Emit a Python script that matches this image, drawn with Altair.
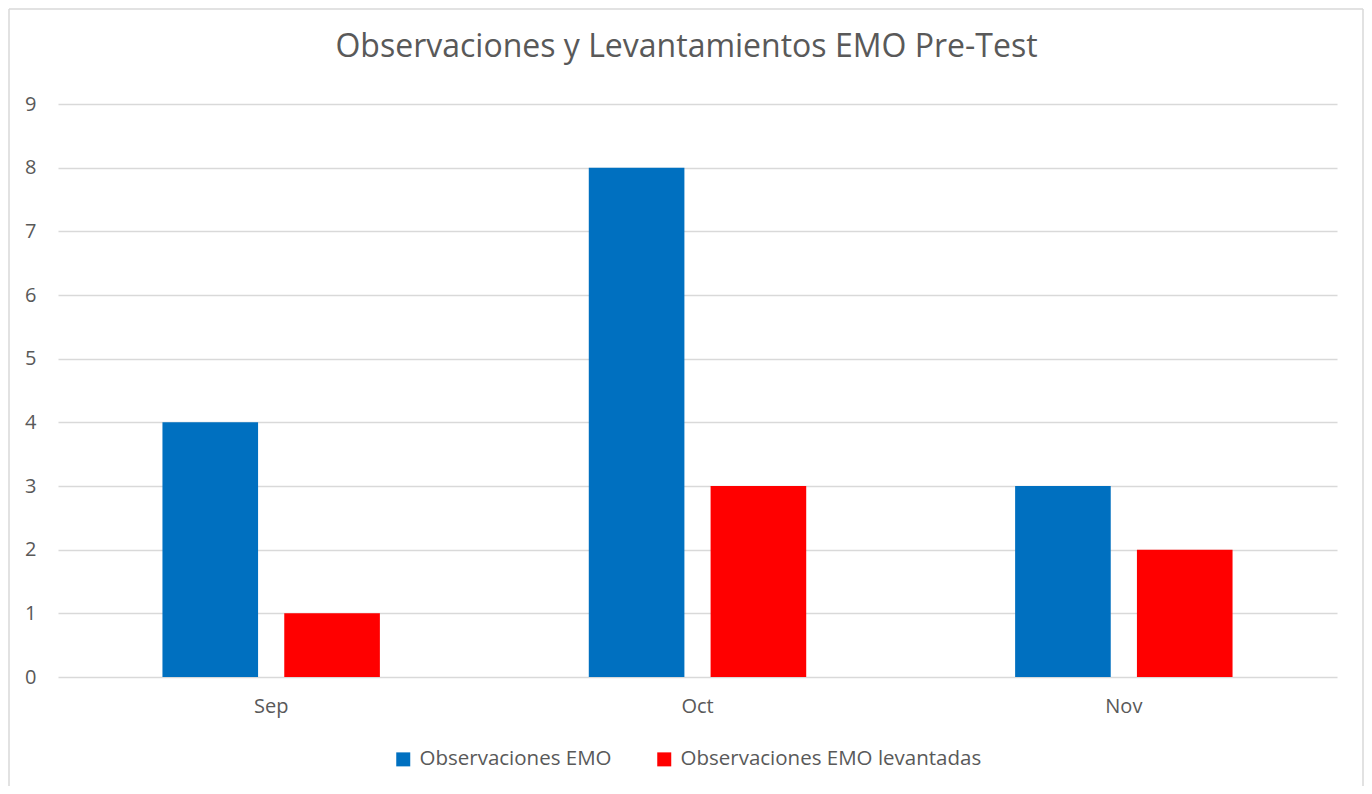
import altair as alt
import pandas as pd

months = ["Sep", "Oct", "Nov"]
series_names = ["Observaciones EMO", "Observaciones EMO levantadas"]
obs = [4, 8, 3]
levantadas = [1, 3, 2]
colors = ["#0070C0", "#FF0000"]

rows = []
for i, m in enumerate(months):
    rows.append({"mes": m, "serie": series_names[0], "valor": obs[i]})
    rows.append({"mes": m, "serie": series_names[1], "valor": levantadas[i]})
df = pd.DataFrame(rows)

FONT = "Open Sans"
W, H = 1279, 573

bars = alt.Chart(df).mark_bar().encode(
    x=alt.X("mes:N", sort=months, title=None,
            scale=alt.Scale(paddingInner=0.49, paddingOuter=0.245),
            axis=alt.Axis(labelAngle=0, domain=False, ticks=False, labelPadding=19,
                          labelFontSize=20, labelColor="#595959", labelFont=FONT)),
    xOffset=alt.XOffset("serie:N", sort=series_names,
                        scale=alt.Scale(paddingInner=0.215, paddingOuter=0)),
    y=alt.Y("valor:Q", title=None,
            scale=alt.Scale(domain=[0, 9], nice=False),
            axis=alt.Axis(values=list(range(10)), domain=False, ticks=False, labelPadding=22,
                          labelFontSize=20, labelColor="#595959", labelFont=FONT,
                          gridColor="#d9d9d9", gridWidth=1.5)),
    color=alt.Color("serie:N", sort=series_names,
                    scale=alt.Scale(domain=series_names, range=colors),
                    legend=alt.Legend(title=None, orient="none", direction="horizontal",
                                      legendX=335, legendY=645,
                                      symbolType="square", symbolSize=196,
                                      symbolStrokeWidth=0, labelFontSize=20.5,
                                      labelColor="#595959", labelFont=FONT,
                                      labelOffset=6, columnPadding=42, labelLimit=500)),
)

# chart frame (decoration), in pixels relative to the plot area
frame_src = pd.DataFrame({"k": [0]})
def frame_rule(x1, x2, y1, y2):
    return alt.Chart(frame_src).mark_rule(color="#d9d9d9", strokeWidth=1.5).encode(
        x=alt.value(x1), x2=alt.value(x2), y=alt.value(y1), y2=alt.value(y2))

frame = [
    frame_rule(-49, 1305, -95, -95),
    frame_rule(-49, -49, -95, 720),
    frame_rule(1305, 1305, -95, 720),
]

chart = alt.layer(*frame, bars).properties(
    width=W, height=H,
    background="white",
    title=alt.TitleParams("Observaciones y Levantamientos EMO Pre-Test",
                          fontSize=32, font=FONT, fontWeight="normal",
                          color="#595959", anchor="middle", offset=-56, dx=-11),
    autosize=alt.AutoSizeParams(type="none"),
    padding={"left": 50, "top": 96, "right": 27, "bottom": 109},
).configure_view(stroke=None)

chart.save("out.html", embed_options={"renderer": "svg", "actions": False})
